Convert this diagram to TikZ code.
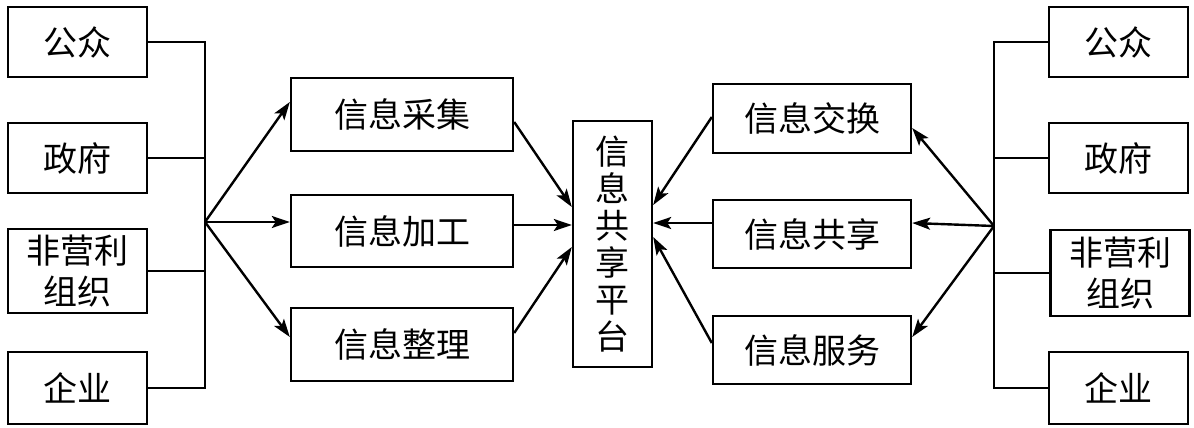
\documentclass[tikz,border=0pt]{standalone}
\usepackage{fontspec}
\setmainfont{Noto Sans CJK SC}
\usetikzlibrary{arrows.meta,calc}
\begin{document}
\begin{tikzpicture}[x=1pt,y=-1pt,
  box/.style={draw,line width=2.4pt,inner sep=0pt,align=center,
    font=\fontsize{34}{41}\selectfont},
  conn/.style={line width=2.4pt},
  arr/.style={line width=2.4pt,-{Stealth[length=18pt,width=12pt,inset=4pt]}}]
\useasboundingbox (0,0) rectangle (1194,428);
% left column
\node[box,minimum width=139,minimum height=70] (L1) at (77.5,42) {公众};
\node[box,minimum width=139,minimum height=70] (L2) at (77.5,158) {政府};
\node[box,minimum width=139,minimum height=84] (L3) at (77.5,271) {非营利\\组织};
\node[box,minimum width=139,minimum height=72] (L4) at (77.5,388) {企业};
% middle-left
\node[box,minimum width=222,minimum height=73] (M1) at (402,114.5) {信息采集};
\node[box,minimum width=222,minimum height=72] (M2) at (402,231) {信息加工};
\node[box,minimum width=222,minimum height=73] (M3) at (402,344.5) {信息整理};
% center
\node[box,minimum width=79,minimum height=246,font=\fontsize{34}{37}\selectfont] (C) at (612.5,244) {信\\息\\共\\享\\平\\台};
% middle-right
\node[box,minimum width=198,minimum height=69] (N1) at (812,118.5) {信息交换};
\node[box,minimum width=198,minimum height=68] (N2) at (812,234) {信息共享};
\node[box,minimum width=198,minimum height=68] (N3) at (812,350) {信息服务};
% right column
\node[box,minimum width=139,minimum height=70] (P1) at (1118.5,42) {公众};
\node[box,minimum width=139,minimum height=70] (P2) at (1118.5,158) {政府};
\node[box,minimum width=139,minimum height=86] (P3) at (1120,273) {非营利\\组织};
\node[box,minimum width=139,minimum height=72] (P4) at (1118.5,388) {企业};
% fan points
\coordinate (lb) at (205,222);
\coordinate (rb) at (994,226);
% left bus
\draw[conn] (L1.east) -| (L4.east -| lb) -- (L4.east);
\draw[conn] (L2.east) -- (L2.east -| lb);
\draw[conn] (L3.east) -- (L3.east -| lb);
% right bus
\draw[conn] (P1.west) -| (P4.west -| rb) -- (P4.west);
\draw[conn] (P2.west) -- (P2.west -| rb);
\draw[conn] (P3.west) -- (P3.west -| rb);
% left fan
\draw[arr] (lb) -- ($(M1.west)+(0,-12.5)$);
\draw[arr] (lb) -- (lb -| M2.west);
\draw[arr] (lb) -- ($(M3.west)+(0,-7.5)$);
% into center from left
\draw[arr] ($(M1.east)+(0,7.5)$) -- (C.west |- 0,207);
\draw[arr] ($(M2.east)+(0,-6)$) -- (C.west |- 0,225);
\draw[arr] ($(M3.east)+(0,-11.5)$) -- (C.west |- 0,247);
% into center from right
\draw[arr] ($(N1.west)+(0,-1.5)$) -- (C.east |- 0,205);
\draw[arr] ($(N2.west)+(0,-11)$) -- (C.east |- 0,223);
\draw[arr] ($(N3.west)+(0,-7)$) -- (C.east |- 0,237);
% right fan
\draw[arr] (rb) -- ($(N1.east)+(0,9.5)$);
\draw[arr] (rb) -- ($(N2.east)+(0,-11)$);
\draw[arr] (rb) -- ($(N3.east)+(0,-13)$);
\end{tikzpicture}
\end{document}
